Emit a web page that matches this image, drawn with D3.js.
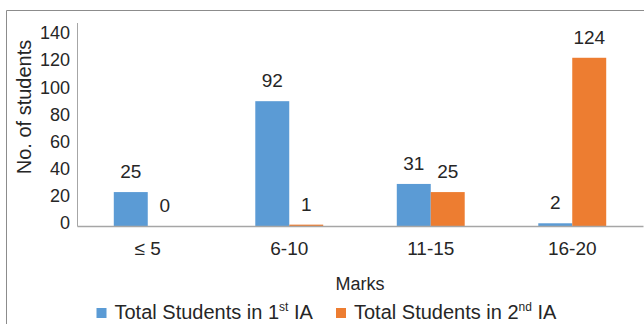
<!DOCTYPE html>
<html><head><meta charset="utf-8">
<script src="https://cdn.jsdelivr.net/npm/d3@7"></script>
<style>body{margin:0;background:#fff}svg{display:block;font-family:"Liberation Sans",Arial,sans-serif}</style>
</head><body>
<script>
const categories = ["≤ 5", "6-10", "11-15", "16-20"];
const series1 = [25, 92, 31, 2];
const series2 = [0, 1, 25, 124];
const yTicks = [0, 20, 40, 60, 80, 100, 120, 140];
const seriesNames = ["Total Students in 1", "Total Students in 2"];
const seriesSup = ["st", "nd"];
const colors = ["#5B9BD5", "#ED7D31"];

(function () {
const W = 644, H = 324;
const FONT = "Liberation Sans, Arial, sans-serif";
const TXT = "#262626";
const svg = d3.select("body").append("svg").attr("width", W).attr("height", H);

// frame
svg.append("path").attr("d", `M6.5,${H} V10.5 H${W}`).attr("fill", "none").attr("stroke", "#8c8c8c").attr("stroke-width", 1);

const pL = 77, pR = 643, pT = 22.5, pB = 226;
const x = d3.scaleBand().domain(categories).range([pL, pR]).paddingInner(0.52).paddingOuter(0.26);
const x1 = d3.scaleBand().domain([0, 1]).range([0, x.bandwidth()]);
const y = d3.scaleLinear().domain([0, 150]).range([pB, pT]);

// y axis
const yAxis = svg.append("g").attr("transform", `translate(${pL},0)`)
  .call(d3.axisLeft(y).tickValues(yTicks).tickSize(0).tickPadding(7));
yAxis.select(".domain").attr("stroke", "#a6a6a6");
yAxis.selectAll("text").attr("font-size", 18).attr("fill", TXT).attr("font-family", FONT).attr("y", -3);

// bars
const data = categories.map((c, i) => ({c, v: [series1[i], series2[i]]}));
const g = svg.append("g");
data.forEach(d => {
  d.v.forEach((v, j) => {
    g.append("rect").attr("x", x(d.c) + x1(j)).attr("y", y(v))
      .attr("width", x1.bandwidth()).attr("height", pB - y(v)).attr("fill", colors[j]);
    g.append("text").attr("x", x(d.c) + x1(j) + x1.bandwidth() / 2).attr("y", y(v) - 14)
      .attr("text-anchor", "middle").attr("font-size", 19).attr("fill", TXT).text(v);
  });
});

// x axis
const xAxis = svg.append("g").attr("transform", `translate(0,${pB})`)
  .call(d3.axisBottom(x).tickSize(0));
xAxis.select(".domain").attr("stroke", "#a6a6a6").attr("stroke-width", 1.5);
xAxis.selectAll("text").attr("font-size", 19).attr("fill", TXT).attr("font-family", FONT)
  .attr("dy", null).attr("y", 29);

// axis titles
svg.append("text").attr("x", 360).attr("y", 290).attr("text-anchor", "middle")
  .attr("font-size", 18).attr("fill", TXT).text("Marks");
svg.append("text").attr("transform", "translate(31,107) rotate(-90)").attr("text-anchor", "middle")
  .attr("font-size", 20).attr("fill", TXT).text("No. of students");

// legend
const legX = [96.5, 336];
seriesNames.forEach((n, j) => {
  const lg = svg.append("g").attr("transform", `translate(${legX[j]},0)`);
  lg.append("rect").attr("x", 0).attr("y", 308).attr("width", 10).attr("height", 10).attr("fill", colors[j]);
  const t = lg.append("text").attr("x", 18).attr("y", 319).attr("font-size", 20).attr("fill", TXT);
  t.append("tspan").text(n);
  t.append("tspan").attr("font-size", 12).attr("dy", -8).text(seriesSup[j]);
  t.append("tspan").attr("dy", 8).text(" IA");
});
})();
</script>
</body></html>
